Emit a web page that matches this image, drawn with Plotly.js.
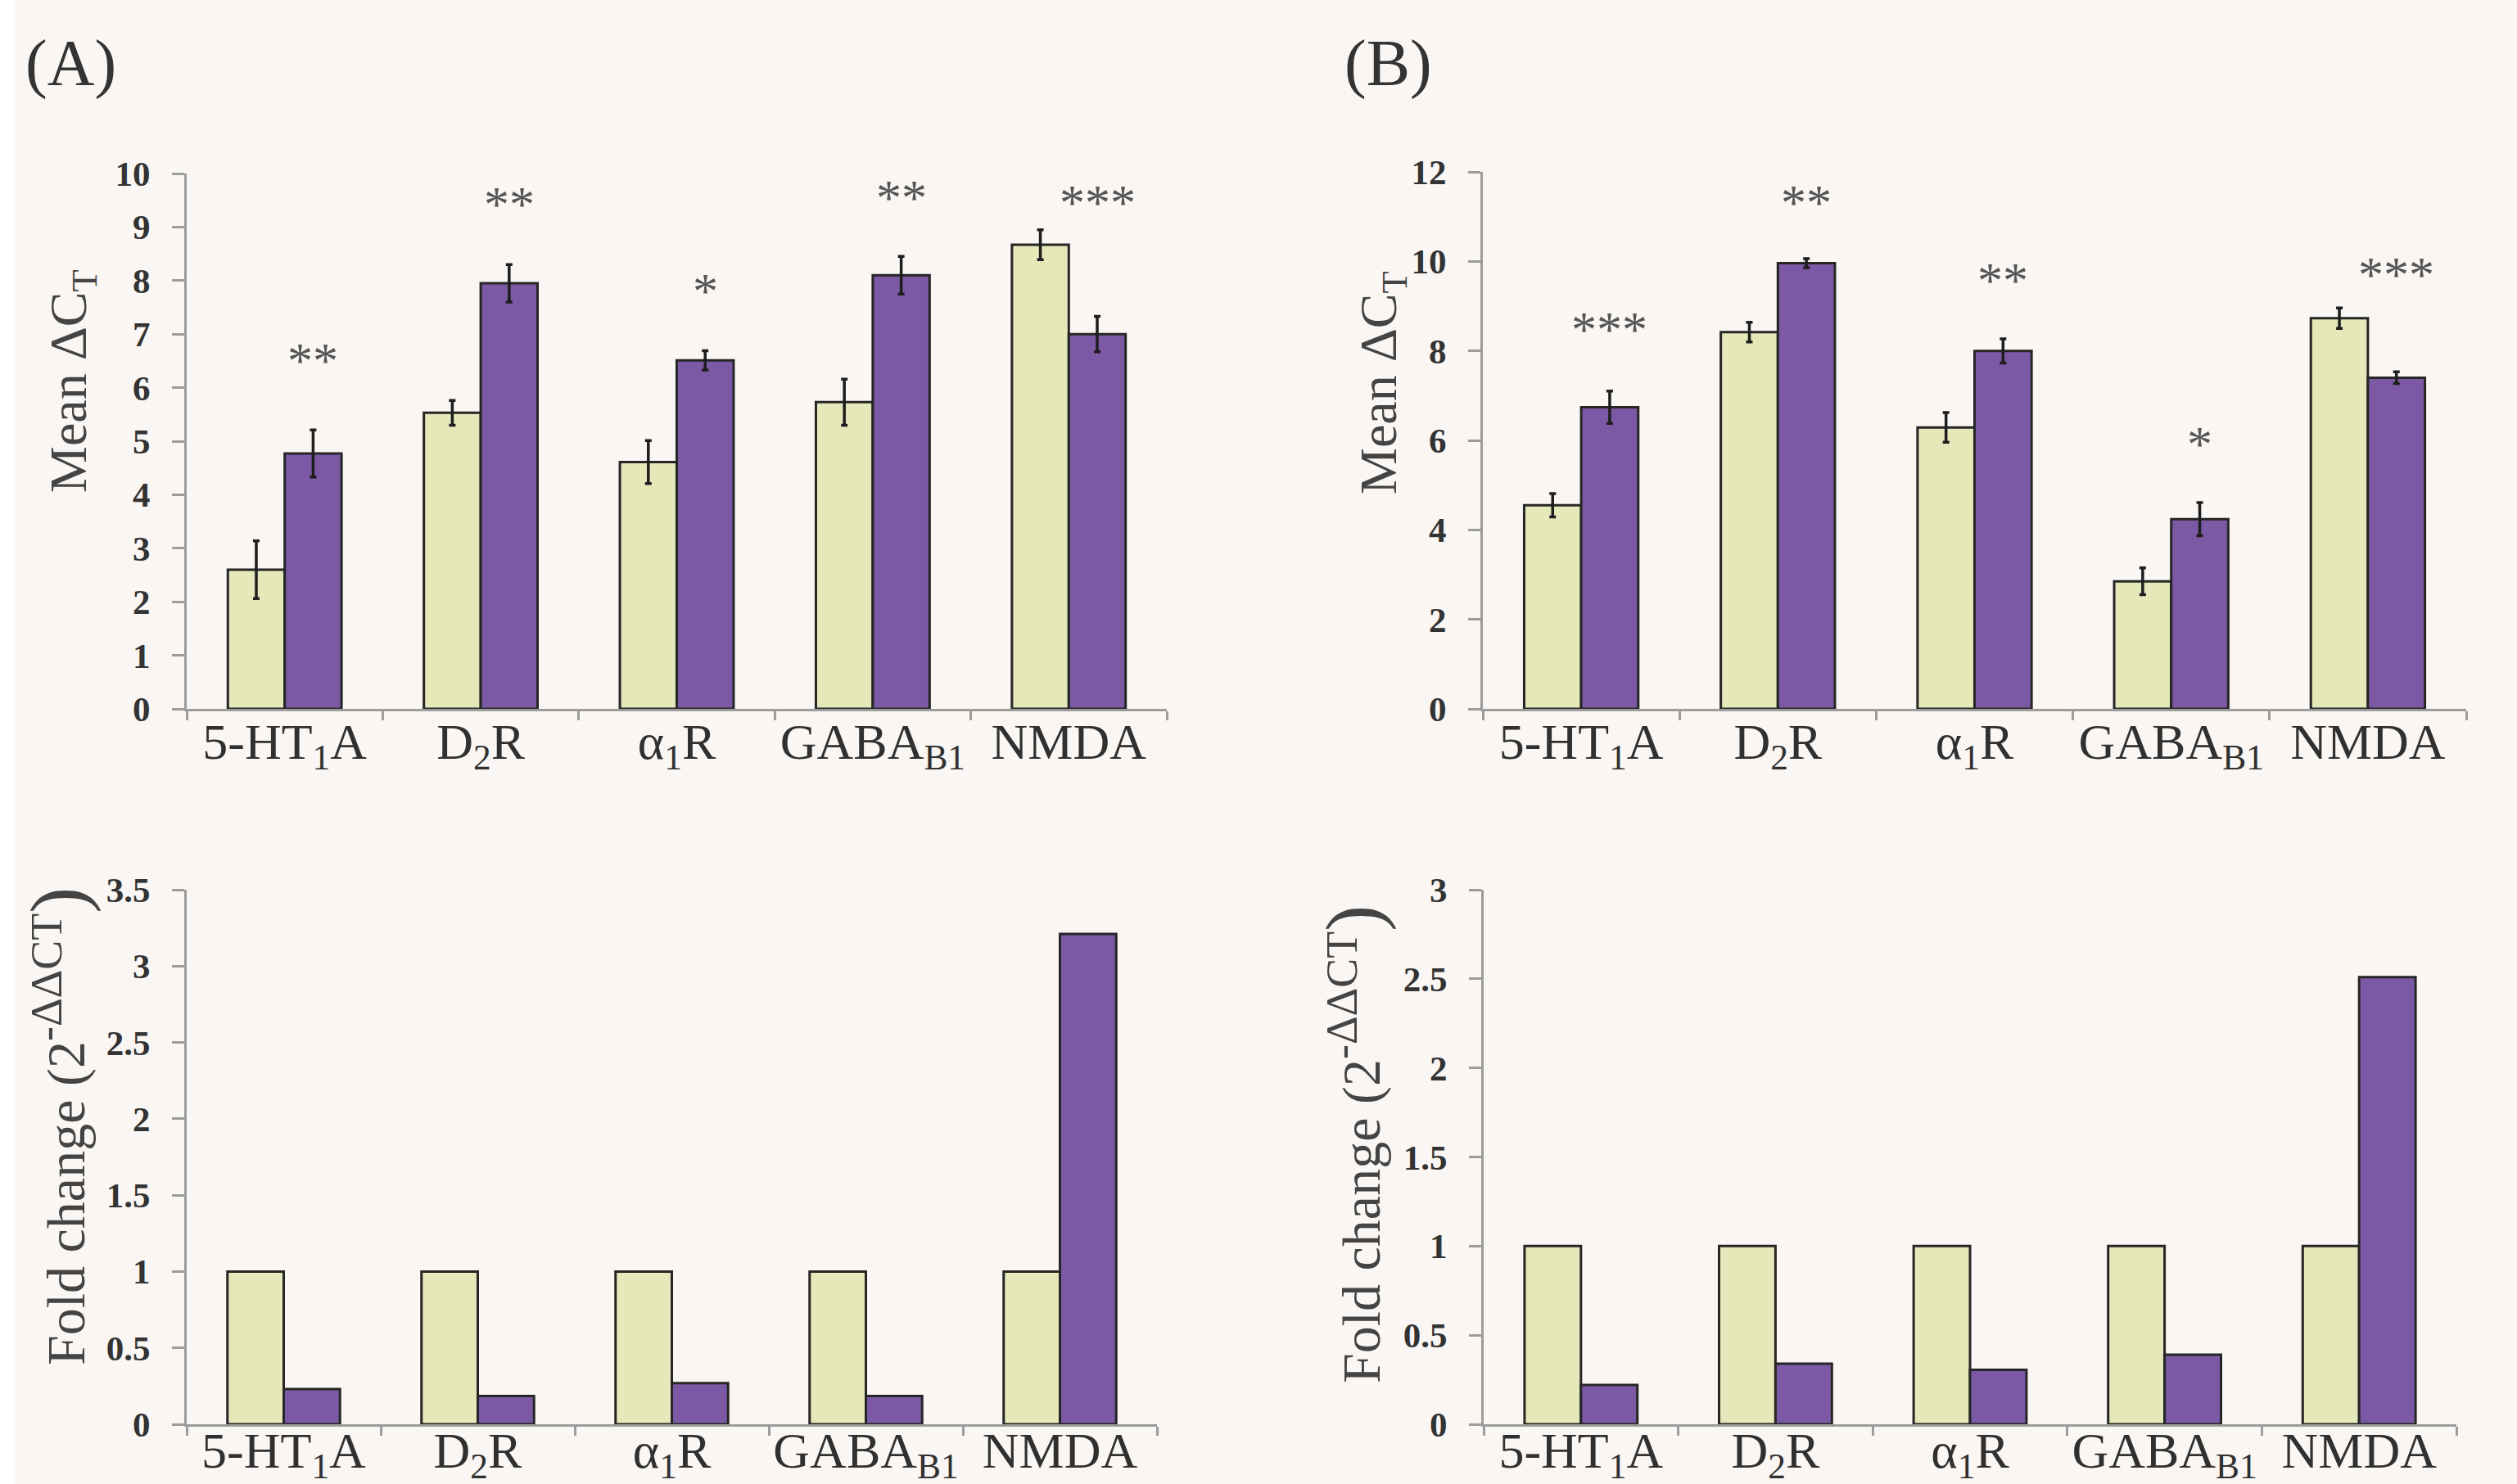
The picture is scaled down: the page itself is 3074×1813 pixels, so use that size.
<!DOCTYPE html>
<html>
<head>
<meta charset="utf-8">
<script src="https://cdn.plot.ly/plotly-3.0.1.min.js"></script>
<style>html,body{margin:0;padding:0;background:#f9f6f3;}#chart{width:3074px;height:1813px;}</style>
</head>
<body>
<div id="chart"></div>
<script>
// ---- data ----
const categories = ['5-HT<sub>1</sub>A', 'D<sub>2</sub>R', 'α<sub>1</sub>R', 'GABA<sub>B1</sub>', 'NMDA'];

// Panel A, mean ΔCT
const ctrlA = [2.60, 5.53, 4.61, 5.73, 8.67];
const ctrlAErr = [0.54, 0.23, 0.40, 0.43, 0.28];
const trtA = [4.77, 7.95, 6.51, 8.10, 7.00];
const trtAErr = [0.44, 0.35, 0.18, 0.35, 0.33];
const sigA = ['**', '**', '*', '**', '***'];
const sigAY = [6.6, 9.53, 7.9, 9.65, 9.55];

// Panel B, mean ΔCT
const ctrlB = [4.55, 8.42, 6.29, 2.85, 8.73];
const ctrlBErr = [0.26, 0.22, 0.33, 0.30, 0.23];
const trtB = [6.74, 9.96, 8.00, 4.24, 7.40];
const trtBErr = [0.36, 0.10, 0.27, 0.37, 0.13];
const sigB = ['***', '**', '**', '*', '***'];
const sigBY = [8.6, 11.44, 9.69, 6.04, 9.82];

// Fold change
const foldCtrlA = [1, 1, 1, 1, 1];
const foldTrtA = [0.23, 0.185, 0.27, 0.185, 3.21];
const foldCtrlB = [1, 1, 1, 1, 1];
const foldTrtB = [0.22, 0.34, 0.305, 0.39, 2.51];

// ---- style ----
const W = 3074, H = 1813;
const GREEN = '#e5e8b9', PURPLE = '#7b59a4', EDGE = '#262626';
const AX = '#9c9c9c';
const SERIF = 'Liberation Serif, Times New Roman, serif';
const BARGAP = 0.42;

function px2x(p) { return p / W; }
function px2y(p) { return 1 - p / H; }

const dom = {
  A1: {x: [px2x(228), px2x(1425)], y: [px2y(866), px2y(212)], r: [0, 10], d: 1, s: -16},
  B1: {x: [px2x(1811), px2x(3012)], y: [px2y(866), px2y(210)], r: [0, 12], d: 2, s: -16},
  A2: {x: [px2x(228), px2x(1413)], y: [px2y(1740), px2y(1087)], r: [0, 3.5], d: 0.5, s: -24},
  B2: {x: [px2x(1812), px2x(3000)], y: [px2y(1740), px2y(1087)], r: [0, 3], d: 0.5, s: -24}
};

function barTrace(y, color, ax, err) {
  const t = {
    type: 'bar', x: categories, y: y,
    xaxis: 'x' + ax, yaxis: 'y' + ax,
    marker: {color: color, line: {color: EDGE, width: 3}},
    showlegend: false, hoverinfo: 'skip'
  };
  if (err) {
    t.error_y = {type: 'data', array: err, visible: true, color: '#1e1e1e', thickness: 3.5, width: 4};
  }
  return t;
}

const data = [
  barTrace(ctrlA, GREEN, '', ctrlAErr),
  barTrace(trtA, PURPLE, '', trtAErr),
  barTrace(ctrlB, GREEN, '2', ctrlBErr),
  barTrace(trtB, PURPLE, '2', trtBErr),
  barTrace(foldCtrlA, GREEN, '3', null),
  barTrace(foldTrtA, PURPLE, '3', null),
  barTrace(foldCtrlB, GREEN, '4', null),
  barTrace(foldTrtB, PURPLE, '4', null)
];

function xaxis(d, anchor) {
  return {
    domain: d.x, anchor: anchor, type: 'category',
    showline: true, linecolor: AX, linewidth: 3,
    ticks: 'outside', tickson: 'boundaries', ticklen: 11, tickwidth: 3, tickcolor: AX,
    showgrid: false, zeroline: false, fixedrange: true,
    tickangle: 0, automargin: false,
    tickfont: {family: SERIF, size: 62, color: '#303030'},
    ticklabelstandoff: d.s
  };
}
function yaxis(d, anchor) {
  return {
    domain: d.y, anchor: anchor, range: d.r, dtick: d.d, tick0: 0,
    showline: true, linecolor: AX, linewidth: 3,
    ticks: 'outside', ticklen: 15, tickwidth: 3, tickcolor: AX,
    showgrid: false, zeroline: false, fixedrange: true, automargin: false,
    tickfont: {family: SERIF, size: 43, color: '#333333', weight: 'bold'},
    ticklabelstandoff: 18
  };
}

const annotations = [];
function addSig(sig, ys, ax, d) {
  const catPx = (d.x[1] - d.x[0]) * W / categories.length;
  const shift = (1 - BARGAP) * catPx / 4;
  sig.forEach((s, i) => {
    annotations.push({
      xref: 'x' + ax, yref: 'y' + ax, x: categories[i], y: ys[i],
      text: s, showarrow: false, xshift: shift, yshift: -6,
      xanchor: 'center', yanchor: 'middle',
      font: {family: SERIF, size: 62, color: '#555555'}
    });
  });
}
addSig(sigA, sigAY, '', dom.A1);
addSig(sigB, sigBY, '2', dom.B1);

function addTitle(text, xpx, ypx, size) {
  annotations.push({
    xref: 'paper', yref: 'paper', x: px2x(xpx), y: px2y(ypx),
    text: text, showarrow: false, textangle: -90,
    xanchor: 'center', yanchor: 'middle',
    font: {family: SERIF, size: size, color: '#444444'}
  });
}
addTitle('Mean ΔC<sub>T</sub>', 88, 466, 64);
addTitle('Mean ΔC<sub>T</sub>', 1688, 468, 64);
const foldTitle = 'Fold change (2<sup><span style="font-size:54px">-ΔΔCT</span></sup><span style="font-size:96px">)</span>';
addTitle(foldTitle, 70, 1376, 66);
addTitle(foldTitle, 1652, 1398, 66);

function addPanel(t, xpx) {
  annotations.push({
    xref: 'paper', yref: 'paper', x: px2x(xpx), y: px2y(78),
    text: t, showarrow: false, xanchor: 'center', yanchor: 'middle',
    font: {family: SERIF, size: 80, color: '#333333'}
  });
}
addPanel('(A)', 86);
addPanel('(B)', 1695);

const layout = {
  width: W, height: H,
  margin: {l: 0, r: 0, t: 0, b: 0},
  paper_bgcolor: '#f9f6f3', plot_bgcolor: '#f9f6f3',
  barmode: 'group', bargap: BARGAP, bargroupgap: 0,
  showlegend: false,
  xaxis: xaxis(dom.A1, 'y'), yaxis: yaxis(dom.A1, 'x'),
  xaxis2: xaxis(dom.B1, 'y2'), yaxis2: yaxis(dom.B1, 'x2'),
  xaxis3: xaxis(dom.A2, 'y3'), yaxis3: yaxis(dom.A2, 'x3'),
  xaxis4: xaxis(dom.B2, 'y4'), yaxis4: yaxis(dom.B2, 'x4'),
  annotations: annotations,
  shapes: [{type: 'rect', xref: 'paper', yref: 'paper', x0: 0, x1: px2x(18), y0: 0, y1: 1,
            fillcolor: '#ffffff', line: {width: 0}, layer: 'below'}]
};

Plotly.newPlot('chart', data, layout, {displayModeBar: false, staticPlot: true});
</script>
</body>
</html>
